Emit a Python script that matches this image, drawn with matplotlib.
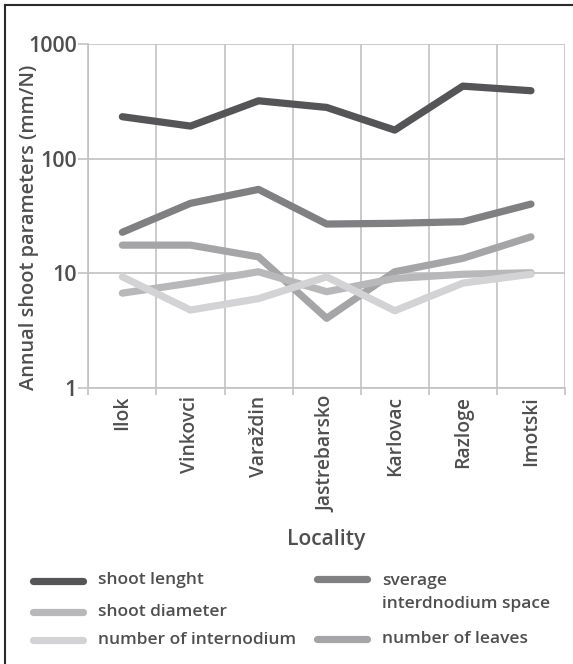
import matplotlib
matplotlib.use("Agg")
import matplotlib.pyplot as plt
from matplotlib.lines import Line2D
import numpy as np

localities = ["Ilok", "Vinkovci", "Varaždin", "Jastrebarsko", "Karlovac", "Razloge", "Imotski"]
shoot_length = [233, 193, 321, 281, 178, 431, 393]
interdnodium_space = [22.8, 40.8, 54, 26.9, 27.3, 28.2, 40.2]
shoot_diameter = [6.7, 8.2, 10.3, 6.9, 9.0, 9.8, 10.1]
number_internodium = [9.3, 4.77, 6.0, 9.3, 4.7, 8.2, 9.8]
number_leaves = [17.6, 17.6, 13.9, 4.04, 10.3, 13.5, 20.8]
yticks = [1, 10, 100, 1000]

TXT = "#4f4f51"
GRID = "#c2c2c2"
W = 'semibold'
plt.rcParams['font.family'] = ['Open Sans', 'DejaVu Sans']

W_PX, H_PX = 573, 664
fig = plt.figure(figsize=(W_PX/100, H_PX/100), dpi=100)
ax = fig.add_axes([88.3/W_PX, 1-387.7/H_PX, (565-88.3)/W_PX, (387.7-44.3)/H_PX])

x = np.arange(len(localities))
lw = 5.2
series = [
    ("shoot lenght", shoot_length, "#555558"),
    ("sverage\ninterdnodium space", interdnodium_space, "#808083"),
    ("number of leaves", number_leaves, "#a5a5a8"),
    ("shoot diameter", shoot_diameter, "#b8b8ba"),
    ("number of internodium", number_internodium, "#d3d3d5"),
]
colors = {}
for lab, vals, col in series:
    ax.plot(x, vals, color=col, lw=lw, solid_capstyle='round', solid_joinstyle='round', label=lab, zorder=3)
    colors[lab] = col

ax.set_yscale('log')
ax.set_ylim(1, 1000)
ax.set_xlim(-0.5, len(localities)-0.5)
ax.set_yticks(yticks)
ax.set_yticklabels([str(v) for v in yticks], fontweight=W)
ax.minorticks_off()
ax.set_xticks(np.arange(len(localities)+1)-0.5)
ax.set_xticklabels([])
ax.set_xticks(x, minor=True)
ax.set_xticklabels(localities, minor=True, rotation=90, va='top', ha='center', fontweight=W)
ax.tick_params(axis='x', which='major', length=5, width=1.2, color=GRID, direction='out')
ax.tick_params(axis='x', which='minor', length=0, pad=6, labelsize=13.9, labelcolor=TXT)
ax.tick_params(axis='y', which='major', length=7, width=1.2, color=GRID, pad=1, labelsize=15.5, labelcolor=TXT)
ax.grid(True, which='major', color=GRID, lw=1.2)
for s in ['top', 'right']:
    ax.spines[s].set_visible(False)
for s in ['left', 'bottom']:
    ax.spines[s].set_color(GRID)
    ax.spines[s].set_linewidth(1.2)

ax.set_ylabel("Annual shoot parameters (mm/N)", fontsize=14.4, color=TXT, fontweight=W, va='center')
ax.yaxis.set_label_coords((29-88.3)/476.7, (387.7-227.5)/343.4)
ax.set_xlabel("Locality", fontsize=15.2, color=TXT, fontweight=W, va='center')
ax.xaxis.set_label_coords(0.5, (387.7-540)/343.4)

leg_entries = [
    ("shoot lenght", "shoot lenght", 33, 580.5, [580.5]),
    ("shoot diameter", "shoot diameter", 33, 611.7, [612]),
    ("number of internodium", "number of internodium", 33, 640, [640]),
    ("sverage\ninterdnodium space", "sverage\ninterdnodium space", 317, 579.3, [581, 604]),
    ("number of leaves", "number of leaves", 317, 639.3, [639]),
]
pxT = lambda px, py: (px/W_PX, 1-py/H_PX)
for key, text, sx, sy, tys in leg_entries:
    x0, y0 = pxT(sx, sy)
    x1, _ = pxT(sx+50, sy)
    fig.add_artist(Line2D([x0, x1], [y0, y0], transform=fig.transFigure, color=colors[key],
                          lw=lw, solid_capstyle='round'))
    for line, ty in zip(text.split("\n"), tys):
        tx, tyf = pxT(sx+65, ty)
        fig.text(tx, tyf, line, fontsize=12.5, color=TXT, fontweight=W, va='center', ha='left')

fig.add_artist(Line2D([5/W_PX, 5/W_PX], [0, 1-5/H_PX], transform=fig.transFigure, color="#2a2a2a", lw=1.5))
fig.add_artist(Line2D([5/W_PX, 1], [1-5/H_PX, 1-5/H_PX], transform=fig.transFigure, color="#2a2a2a", lw=1.5))

fig.savefig("out.png", dpi=100)
